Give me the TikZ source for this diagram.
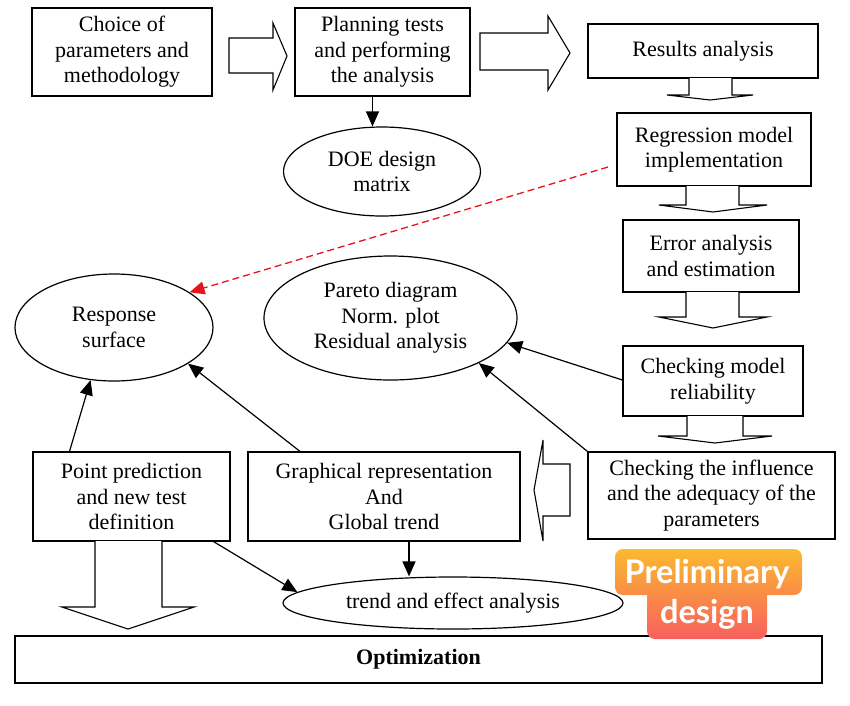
\documentclass[tikz,border=0pt]{standalone}
\usepackage{fontspec}
\setmainfont{Liberation Serif}
\newfontfamily\badgefont{Lato}
\usetikzlibrary{arrows.meta,shapes.geometric}
\definecolor{badgeTop}{HTML}{FBBA2F}
\definecolor{badgeBot}{HTML}{F8605E}
\definecolor{dashred}{HTML}{E8141B}
\begin{document}
\begin{tikzpicture}[x=1pt,y=-1pt,
  every node/.style={font=\fontsize{22}{25.5}\selectfont, align=center},
  box/.style={draw, line width=1.2pt, rectangle, inner sep=2pt},
  oval/.style={draw, line width=1.2pt, ellipse, inner sep=0pt},
  arr/.style={-{Triangle[length=15pt,width=13pt]}, line width=1.2pt},
  blockarrow/.style={draw, line width=1.1pt, fill=white, line join=miter},
  badgetext/.style={text=white, font=\badgefont\bfseries\fontsize{32.5}{34}\selectfont, inner sep=0pt}
]
\useasboundingbox (0,0) rectangle (850,705);

% boxes
\node[box, minimum width=180pt, minimum height=88pt] (choice) at (122,52) {Choice of\\parameters and\\methodology};
\node[box, minimum width=175pt, minimum height=88pt] (plan) at (382.5,52) {Planning tests\\and performing\\the analysis};
\node[box, minimum width=230pt, minimum height=54pt] (results) at (703,51) {Results analysis};
\node[box, minimum width=194pt, minimum height=73pt] (regr) at (714,149.5) {Regression model\\implementation};
\node[box, minimum width=176pt, minimum height=72pt] (error) at (711,256) {Error analysis\\and estimation};
\node[box, minimum width=180pt, minimum height=70pt] (reliab) at (713,381) {Checking model\\reliability};
\node[box, minimum width=247pt, minimum height=87pt] (influ) at (711.5,495.5) {Checking the influence\\and the adequacy of the\\parameters};
\node[box, minimum width=272pt, minimum height=89pt] (graph) at (384,496.5) {Graphical representation\\And\\Global trend};
\node[box, minimum width=197pt, minimum height=89pt] (point) at (131.5,496.5) {Point prediction\\and new test\\definition};
\node[box, minimum width=807pt, minimum height=47pt, font=\fontsize{22}{25.5}\selectfont\bfseries] (optim) at (418.5,659.5) {Optimization};

% ellipses
\node[oval, minimum width=197pt, minimum height=89pt] (doe) at (382,171.5) {DOE design\\matrix};
\node[oval, minimum width=198pt, minimum height=107pt] (resp) at (114,327.5) {Response\\surface};
\node[oval, minimum width=253pt, minimum height=124pt] (pareto) at (390.5,318) {Pareto diagram\\Norm. plot\\Residual analysis};
\node[oval, minimum width=340pt, minimum height=52pt] (trend) at (453,603) {trend and effect analysis};

% block arrows (right)
\path[blockarrow] (229,38) -- (273,38) -- (273,23) -- (287,56) -- (273,90) -- (273,73) -- (229,73) -- cycle;
\path[blockarrow] (480,33) -- (548,33) -- (548,16) -- (570,53) -- (548,90) -- (548,70) -- (480,70) -- cycle;
% block arrows (down, right column)
\path[blockarrow] (689,78) -- (689,95) -- (667,95) -- (710,100) -- (753,95) -- (732,95) -- (732,78);
\path[blockarrow] (686,186) -- (686,205) -- (659,205) -- (713,212) -- (767,205) -- (739,205) -- (739,186);
\path[blockarrow] (686,292) -- (686,317) -- (659,317) -- (713,328) -- (767,317) -- (739,317) -- (739,292);
\path[blockarrow] (687,416) -- (687,436) -- (658,436) -- (715,443) -- (772,436) -- (743,436) -- (743,416);
% block arrow (left)
\path[blockarrow] (570,464) -- (543,464) -- (543,440) -- (534,490) -- (543,541) -- (543,516) -- (570,516) -- cycle;
% block arrow (down from point prediction)
\path[blockarrow] (95,541) -- (95,607) -- (62,607) -- (128,629) -- (194,607) -- (162,607) -- (162,541);

% connectors
\draw[arr] ([xshift=-10pt]plan.south) -- ([xshift=-10pt]plan.south |- doe.north);
\draw[arr] ([yshift=1pt]reliab.west) -- (pareto.-12);
\draw[arr] (influ.north west) -- (pareto.-27);
\draw[arr] ([xshift=-84pt]graph.north) -- (resp.-26);
\draw[arr] ([xshift=-62pt]point.north) -- (resp.-114);
\draw[arr] ([xshift=-17pt]point.south east) -- (trend.176);
\draw[arr] ([xshift=25pt]graph.south) -- ([xshift=25pt]graph.south |- trend.north);
\coordinate (dstart) at (608,167);
\draw[dashred, line width=1.3pt, dash pattern=on 7pt off 4pt, -{Triangle[length=15pt,width=13pt]}] (dstart) -- (resp.25);

% badge
\shade[top color=badgeTop, bottom color=badgeBot, rounded corners=8pt]
  (615,549) rectangle (802,595) (647,585) rectangle (767,639);
\node[badgetext] (prelim) at (707,574) {Preliminary};
\node[badgetext] (design) at (707,614) {design};
\end{tikzpicture}
\end{document}
